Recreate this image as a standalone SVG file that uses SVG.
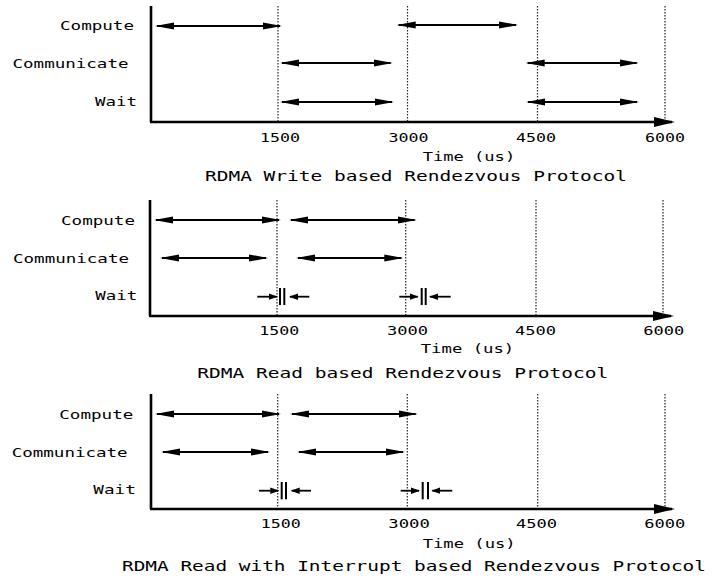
<svg xmlns="http://www.w3.org/2000/svg" width="714" height="580" viewBox="0 0 714 580">
  <style>
    .lbl { font-family: "DejaVu Sans Mono", "Liberation Mono", monospace; font-size: 12px; fill: #000; }
    .tick { font-family: "DejaVu Sans Mono", "Liberation Mono", monospace; font-size: 13px; fill: #000; }
    .ttl { font-family: "DejaVu Sans Mono", "Liberation Mono", monospace; font-size: 14.5px; fill: #000; }
    .axis { stroke: #000; stroke-width: 2.6; fill: none; }
    .grid { stroke: #222; stroke-width: 1.2; stroke-dasharray: 1.5 1.5; fill: none; }
    .span { stroke: #000; stroke-width: 2; fill: none; marker-start: url(#head); marker-end: url(#head); }
    .tiny { stroke: #000; stroke-width: 1.8; fill: none; marker-end: url(#small); }
    .bar { stroke: #000; stroke-width: 2; }
  </style>
  <defs>
    <marker id="head" markerUnits="userSpaceOnUse" markerWidth="20" markerHeight="8" viewBox="0 -4 20 8" refX="17" refY="0" orient="auto-start-reverse">
      <path d="M0,-3.6 L19,0 L0,3.6 z" fill="#000"/>
    </marker>
    <marker id="small" markerUnits="userSpaceOnUse" markerWidth="10" markerHeight="8" viewBox="0 -4 10 8" refX="8" refY="0" orient="auto">
      <path d="M0,-3.2 L9,0 L0,3.2 z" fill="#000"/>
    </marker>
    <marker id="axhead" markerUnits="userSpaceOnUse" markerWidth="22" markerHeight="12" viewBox="0 -6 22 12" refX="18" refY="0" orient="auto">
      <path d="M0,-5 L21,0 L0,5 z" fill="#000"/>
    </marker>
  </defs>

  <!-- Panel 1: RDMA Write -->
  <g id="panel-write">
    <g id="write-axes">
      <line class="axis" x1="151" y1="6" x2="151" y2="122"/>
      <line class="axis" x1="150" y1="122" x2="672" y2="122" marker-end="url(#axhead)"/>
      <line class="grid" x1="278" y1="6" x2="278" y2="121"/>
      <line class="grid" x1="407.5" y1="6" x2="407.5" y2="121"/>
      <line class="grid" x1="537.5" y1="6" x2="537.5" y2="121"/>
      <line class="grid" x1="665" y1="6" x2="665" y2="121"/>
    </g>
    <g id="write-labels">
      <text class="lbl" x="60" y="30" textLength="74" lengthAdjust="spacingAndGlyphs">Compute</text>
      <text class="lbl" x="12.5" y="68" textLength="116" lengthAdjust="spacingAndGlyphs">Communicate</text>
      <text class="lbl" x="95" y="106" textLength="42" lengthAdjust="spacingAndGlyphs">Wait</text>
      <text class="tick" x="260" y="141.7" textLength="40" lengthAdjust="spacingAndGlyphs">1500</text>
      <text class="tick" x="388.5" y="141.7" textLength="40" lengthAdjust="spacingAndGlyphs">3000</text>
      <text class="tick" x="516" y="141.7" textLength="40" lengthAdjust="spacingAndGlyphs">4500</text>
      <text class="tick" x="645" y="141.7" textLength="40" lengthAdjust="spacingAndGlyphs">6000</text>
      <text class="tick" x="422.7" y="160.5" textLength="92.5" lengthAdjust="spacingAndGlyphs">Time (us)</text>
      <text class="ttl" x="205" y="181" textLength="422" lengthAdjust="spacingAndGlyphs">RDMA Write based Rendezvous Protocol</text>
    </g>
    <g id="write-spans">
      <line class="span" x1="157" y1="26" x2="280" y2="26"/>
      <line class="span" x1="398.7" y1="25" x2="516" y2="25"/>
      <line class="span" x1="282" y1="63" x2="390.7" y2="63"/>
      <line class="span" x1="527.7" y1="63" x2="636.7" y2="63"/>
      <line class="span" x1="282" y1="102" x2="392" y2="102"/>
      <line class="span" x1="528" y1="102" x2="637" y2="102"/>
    </g>
  </g>

  <!-- Panel 2: RDMA Read -->
  <g id="panel-read">
    <g id="read-axes">
      <line class="axis" x1="150" y1="200" x2="150" y2="316"/>
      <line class="axis" x1="149" y1="316" x2="671" y2="316" marker-end="url(#axhead)"/>
      <line class="grid" x1="277" y1="200" x2="277" y2="315"/>
      <line class="grid" x1="405.7" y1="200" x2="405.7" y2="315"/>
      <line class="grid" x1="536" y1="200" x2="536" y2="315"/>
      <line class="grid" x1="663" y1="200" x2="663" y2="315"/>
    </g>
    <g id="read-labels">
      <text class="lbl" x="61" y="225" textLength="74" lengthAdjust="spacingAndGlyphs">Compute</text>
      <text class="lbl" x="13" y="262.7" textLength="116" lengthAdjust="spacingAndGlyphs">Communicate</text>
      <text class="lbl" x="95.3" y="300" textLength="42" lengthAdjust="spacingAndGlyphs">Wait</text>
      <text class="tick" x="259.3" y="335" textLength="40" lengthAdjust="spacingAndGlyphs">1500</text>
      <text class="tick" x="387" y="335" textLength="41" lengthAdjust="spacingAndGlyphs">3000</text>
      <text class="tick" x="515" y="335" textLength="41" lengthAdjust="spacingAndGlyphs">4500</text>
      <text class="tick" x="643.3" y="335" textLength="41" lengthAdjust="spacingAndGlyphs">6000</text>
      <text class="tick" x="420.7" y="352.7" textLength="93.6" lengthAdjust="spacingAndGlyphs">Time (us)</text>
      <text class="ttl" x="197.3" y="377.7" textLength="411" lengthAdjust="spacingAndGlyphs">RDMA Read based Rendezvous Protocol</text>
    </g>
    <g id="read-spans">
      <line class="span" x1="156" y1="220" x2="279" y2="220"/>
      <line class="span" x1="291" y1="220" x2="414.7" y2="220"/>
      <line class="span" x1="162" y1="258" x2="266" y2="258"/>
      <line class="span" x1="298" y1="258" x2="401.3" y2="258"/>
    </g>
    <g id="read-waits">
      <line class="tiny" x1="257.3" y1="296.7" x2="276.7" y2="296.7"/>
      <line class="bar" x1="280" y1="288" x2="280" y2="305"/>
      <line class="bar" x1="284.3" y1="288" x2="284.3" y2="305"/>
      <line class="tiny" x1="309.3" y1="296.7" x2="290" y2="296.7"/>
      <line class="tiny" x1="399.3" y1="296.7" x2="417.7" y2="296.7"/>
      <line class="bar" x1="421.7" y1="288" x2="421.7" y2="305"/>
      <line class="bar" x1="425.7" y1="288" x2="425.7" y2="305"/>
      <line class="tiny" x1="450.7" y1="296.7" x2="430" y2="296.7"/>
    </g>
  </g>

  <!-- Panel 3: RDMA Read with Interrupt -->
  <g id="panel-interrupt">
    <g id="interrupt-axes">
      <line class="axis" x1="151" y1="394" x2="151" y2="509"/>
      <line class="axis" x1="150" y1="509" x2="672" y2="509" marker-end="url(#axhead)"/>
      <line class="grid" x1="277.7" y1="394" x2="277.7" y2="508"/>
      <line class="grid" x1="407.3" y1="394" x2="407.3" y2="508"/>
      <line class="grid" x1="537.7" y1="394" x2="537.7" y2="508"/>
      <line class="grid" x1="665" y1="394" x2="665" y2="508"/>
    </g>
    <g id="interrupt-labels">
      <text class="lbl" x="59.3" y="419.3" textLength="74" lengthAdjust="spacingAndGlyphs">Compute</text>
      <text class="lbl" x="11.7" y="456.7" textLength="116" lengthAdjust="spacingAndGlyphs">Communicate</text>
      <text class="lbl" x="93.3" y="494.3" textLength="42.5" lengthAdjust="spacingAndGlyphs">Wait</text>
      <text class="tick" x="260.7" y="528.3" textLength="40" lengthAdjust="spacingAndGlyphs">1500</text>
      <text class="tick" x="388.3" y="528.3" textLength="41.5" lengthAdjust="spacingAndGlyphs">3000</text>
      <text class="tick" x="516" y="528.3" textLength="41" lengthAdjust="spacingAndGlyphs">4500</text>
      <text class="tick" x="644.3" y="528.3" textLength="41" lengthAdjust="spacingAndGlyphs">6000</text>
      <text class="tick" x="422.7" y="547.7" textLength="93" lengthAdjust="spacingAndGlyphs">Time (us)</text>
      <text class="ttl" x="122" y="570.7" textLength="584" lengthAdjust="spacingAndGlyphs">RDMA Read with Interrupt based Rendezvous Protocol</text>
    </g>
    <g id="interrupt-spans">
      <line class="span" x1="157" y1="414" x2="279" y2="414"/>
      <line class="span" x1="292" y1="414" x2="415.7" y2="414"/>
      <line class="span" x1="163" y1="452" x2="268" y2="452"/>
      <line class="span" x1="299" y1="452" x2="403" y2="452"/>
    </g>
    <g id="interrupt-waits">
      <line class="tiny" x1="259" y1="490.7" x2="278.3" y2="490.7"/>
      <line class="bar" x1="281.7" y1="482" x2="281.7" y2="499.3"/>
      <line class="bar" x1="286" y1="482" x2="286" y2="499.3"/>
      <line class="tiny" x1="311" y1="490.7" x2="291.7" y2="490.7"/>
      <line class="tiny" x1="400.7" y1="490.7" x2="419" y2="490.7"/>
      <line class="bar" x1="422.7" y1="482" x2="422.7" y2="499.3"/>
      <line class="bar" x1="428" y1="482" x2="428" y2="499.3"/>
      <line class="tiny" x1="452.3" y1="490.7" x2="432.3" y2="490.7"/>
    </g>
  </g>
</svg>
